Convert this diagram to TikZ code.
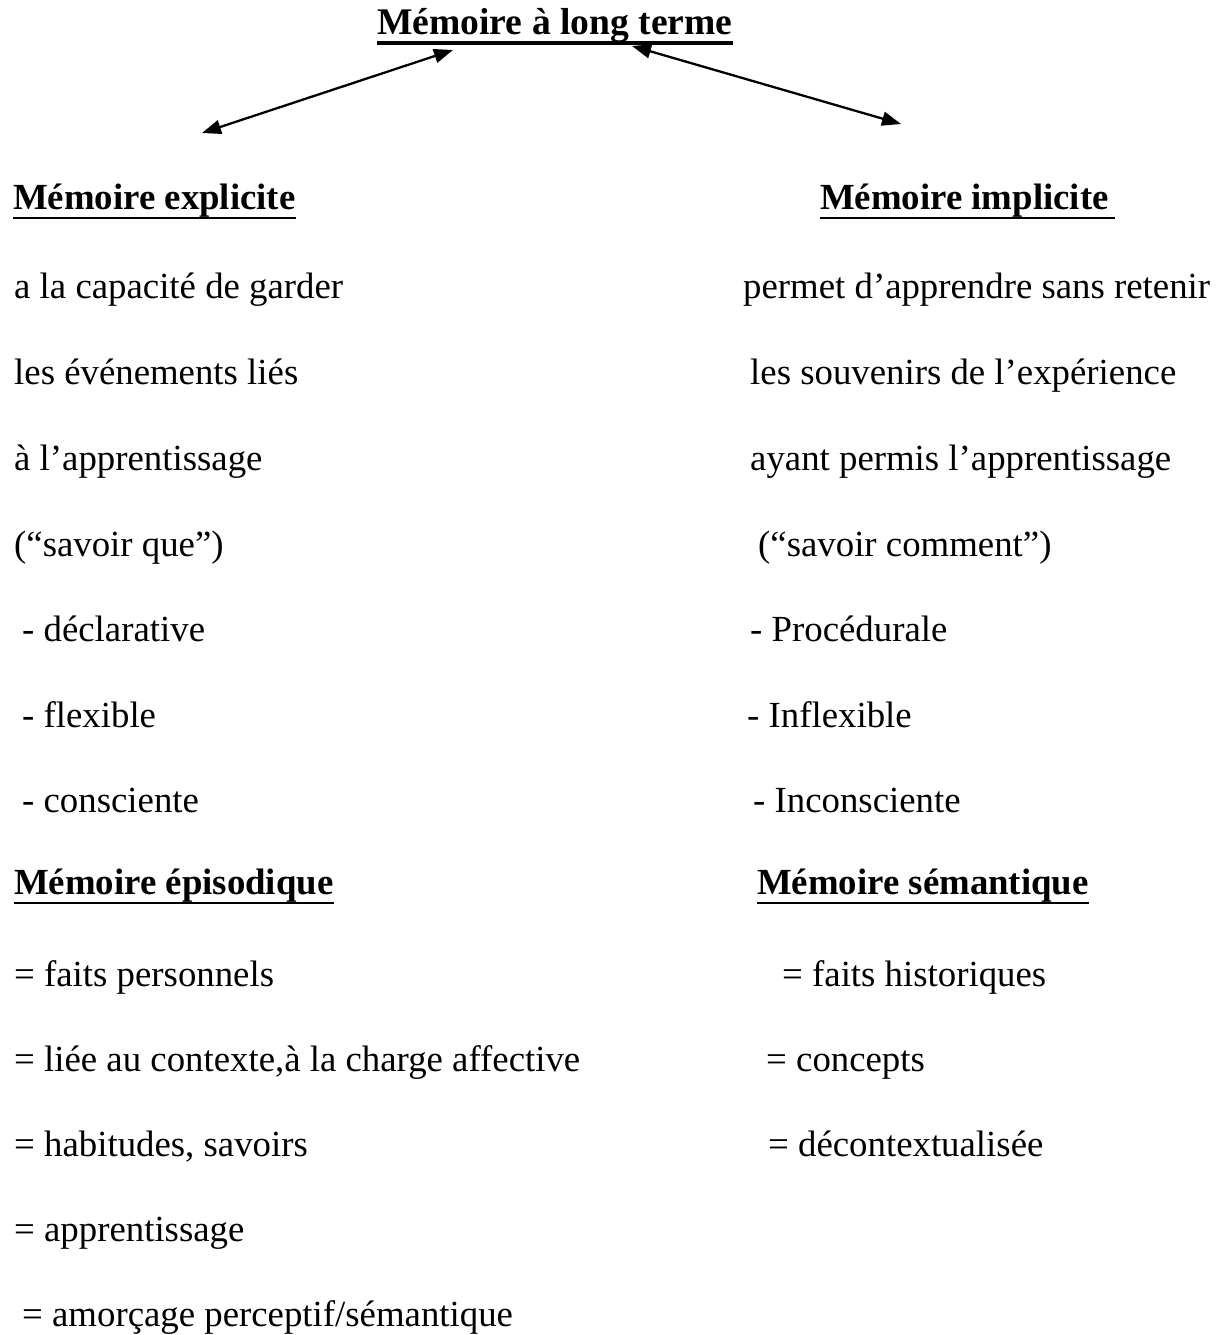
\documentclass[tikz,border=0pt]{standalone}
\usepackage{fontspec}
\setmainfont{Liberation Serif}
\usetikzlibrary{arrows.meta}
\begin{document}
\begin{tikzpicture}[x=1pt,y=-1pt,
  txt/.style={anchor=base west, inner sep=0pt, font=\fontsize{36.8}{44}\selectfont},
  hdr/.style={anchor=base west, inner sep=0pt, font=\fontsize{36.8}{44}\selectfont\bfseries},
  ttl/.style={anchor=base west, inner sep=0pt, font=\fontsize{37.6}{44}\selectfont\bfseries},
  uline/.style={line width=2.8pt},
  tuline/.style={line width=3.3pt},
  biarrow/.style={{Triangle[length=19pt,width=14pt]}-{Triangle[length=19pt,width=14pt]}, line width=2.3pt}]
\useasboundingbox (0,0) rectangle (1226,1335);

% title
\node[ttl] (ttl) at (377,35) {Mémoire à long terme};
\draw[tuline] ([yshift=-8pt]ttl.base west) -- ([yshift=-8pt]ttl.base east);

% arrows
\coordinate (la1) at (202,133);
\coordinate (la2) at (453,50);
\coordinate (ra1) at (632,46);
\coordinate (ra2) at (901,124);
\draw[biarrow] (la1) -- (la2);
\draw[biarrow] (ra1) -- (ra2);

% headers
\node[hdr] (hexp) at (13,209) {Mémoire explicite};
\draw[uline] ([yshift=-9pt]hexp.base west) -- ([yshift=-9pt]hexp.base east);
\node[hdr] (himp) at (820,209) {Mémoire implicite};
\draw[uline] ([yshift=-9pt]himp.base west) -- ([yshift=-9pt,xshift=6pt]himp.base east);

% left column
\node[txt] (l1) at (14,298) {a la capacité de garder};
\node[txt] (l2) at (14,384) {les événements liés};
\node[txt] (l3) at (14,470) {à l’apprentissage};
\node[txt] (l4) at (14,556) {(“savoir que”)};
\node[txt] (l5) at (22,641) {- déclarative};
\node[txt] (l6) at (22,727) {- flexible};
\node[txt] (l7) at (22,812) {- consciente};

% right column
\node[txt] (r1) at (743,298) {permet d’apprendre sans retenir};
\node[txt] (r2) at (750,384) {les souvenirs de l’expérience};
\node[txt] (r3) at (750,470) {ayant permis l’apprentissage};
\node[txt] (r4) at (758,556) {(“savoir comment”)};
\node[txt] (r5) at (750,641) {- Procédurale};
\node[txt] (r6) at (747,727) {- Inflexible};
\node[txt] (r7) at (753,812) {- Inconsciente};

% second headers
\node[hdr] (hepi) at (14,894) {Mémoire épisodique};
\draw[uline] ([yshift=-9pt]hepi.base west) -- ([yshift=-9pt]hepi.base east);
\node[hdr] (hsem) at (757,894) {Mémoire sémantique};
\draw[uline] ([yshift=-9pt]hsem.base west) -- ([yshift=-9pt]hsem.base east);

% lower left
\node[txt] (e1) at (14,986) {= faits personnels};
\node[txt] (e2) at (14,1071) {= liée au contexte,à la charge affective};
\node[txt] (e3) at (14,1156) {= habitudes, savoirs};
\node[txt] (e4) at (14,1241) {= apprentissage};
\node[txt] (e5) at (22,1326) {= amorçage perceptif/sémantique};

% lower right
\node[txt] (s1) at (782,986) {= faits historiques};
\node[txt] (s2) at (766,1071) {= concepts};
\node[txt] (s3) at (768,1156) {= décontextualisée};
\end{tikzpicture}
\end{document}
